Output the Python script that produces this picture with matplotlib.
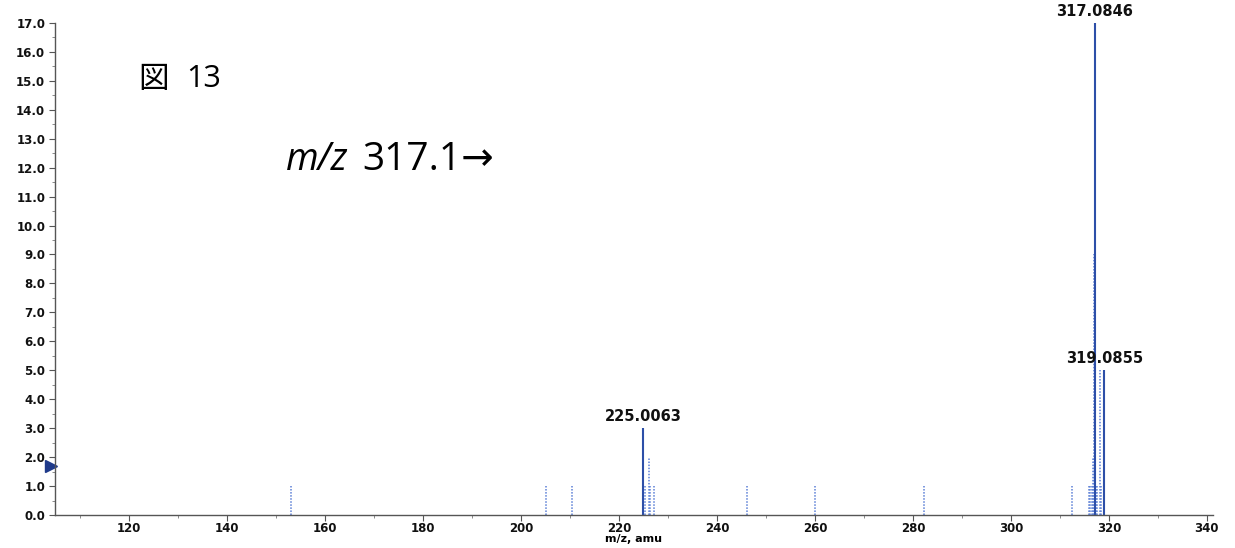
import numpy as np
import matplotlib
matplotlib.use('Agg')
import matplotlib.pyplot as plt
from matplotlib.ticker import MultipleLocator, FormatStrFormatter

# labeled (solid) peaks
label_mz = [225.0063, 317.0846, 319.0855]
label_int = [3.0, 17.0, 5.0]

# minor (dotted) peaks
minor_mz = [153.0, 205.2, 210.5, 225.3, 226.1, 226.4, 227.2, 246.1, 260.0, 282.3,
            312.4, 316.0, 316.2, 316.5, 316.8, 316.9, 317.3, 317.6, 318.1, 318.4]
minor_int = [1.0, 1.0, 1.0, 1.0, 2.0, 1.0, 1.0, 1.0, 1.0, 1.0,
             1.0, 1.0, 1.0, 1.0, 2.0, 9.0, 1.0, 1.0, 5.0, 1.0]

x_label = 'm/z, amu'
marker_level = 1.7

fig = plt.figure(figsize=(12.35, 5.48), dpi=100)
ax = fig.add_axes([0.0445, 0.0602, 0.9375, 0.898])

ax.vlines(minor_mz, 0, minor_int, colors='#5b7fd6', linestyles=(0, (1, 1)), linewidth=1.1)
ax.vlines(label_mz, 0, label_int, colors='#2d4fa8', linewidth=1.5)

for mz, it in zip(label_mz, label_int):
    ax.annotate('%.4f' % mz, (mz, it), xytext=(0, 3), textcoords='offset points',
                ha='center', va='bottom', fontsize=10.5, fontweight='bold',
                family='DejaVu Sans', color='#111111', annotation_clip=False)

ax.set_xlim(104.9, 341.2)
ax.set_ylim(0, 17)

ax.plot([104.9 - 0.8], [marker_level], marker='>', color='#1f3a8a',
        markersize=8, clip_on=False)

ax.xaxis.set_major_locator(MultipleLocator(20))
ax.xaxis.set_minor_locator(MultipleLocator(10))
ax.yaxis.set_major_locator(MultipleLocator(1))
ax.yaxis.set_minor_locator(MultipleLocator(0.5))
ax.yaxis.set_major_formatter(FormatStrFormatter('%.1f'))

for s in ['top', 'right']:
    ax.spines[s].set_visible(False)
for s in ['left', 'bottom']:
    ax.spines[s].set_color('#555555')
    ax.spines[s].set_linewidth(1.0)

ax.tick_params(which='major', length=4, width=0.8, color='#555555',
               labelsize=8.5, pad=3)
ax.tick_params(axis='x', which='major', pad=1)
ax.tick_params(which='minor', length=2, width=0.6, color='#777777')
for lab in ax.get_xticklabels() + ax.get_yticklabels():
    lab.set_fontweight('bold')
    lab.set_color('#111111')

ax.set_xlabel(x_label, fontsize=8, fontweight='bold', labelpad=-1)

fig.text(138 / 1235, 1 - 79 / 548, '図', fontsize=22,
         family=['Noto Sans CJK JP', 'DejaVu Sans'], va='center', ha='left')
fig.text(186 / 1235, 1 - 79 / 548, '13', fontsize=22,
         family='Open Sans', va='center', ha='left')
fig.text(286 / 1235, 1 - 160 / 548, 'm/z', fontsize=27, style='italic',
         family='Open Sans', va='center', ha='left')
fig.text(362 / 1235, 1 - 160 / 548, '317.1→', fontsize=28,
         family=['Open Sans', 'DejaVu Sans'], va='center', ha='left')

fig.savefig('out.png', dpi=100)
